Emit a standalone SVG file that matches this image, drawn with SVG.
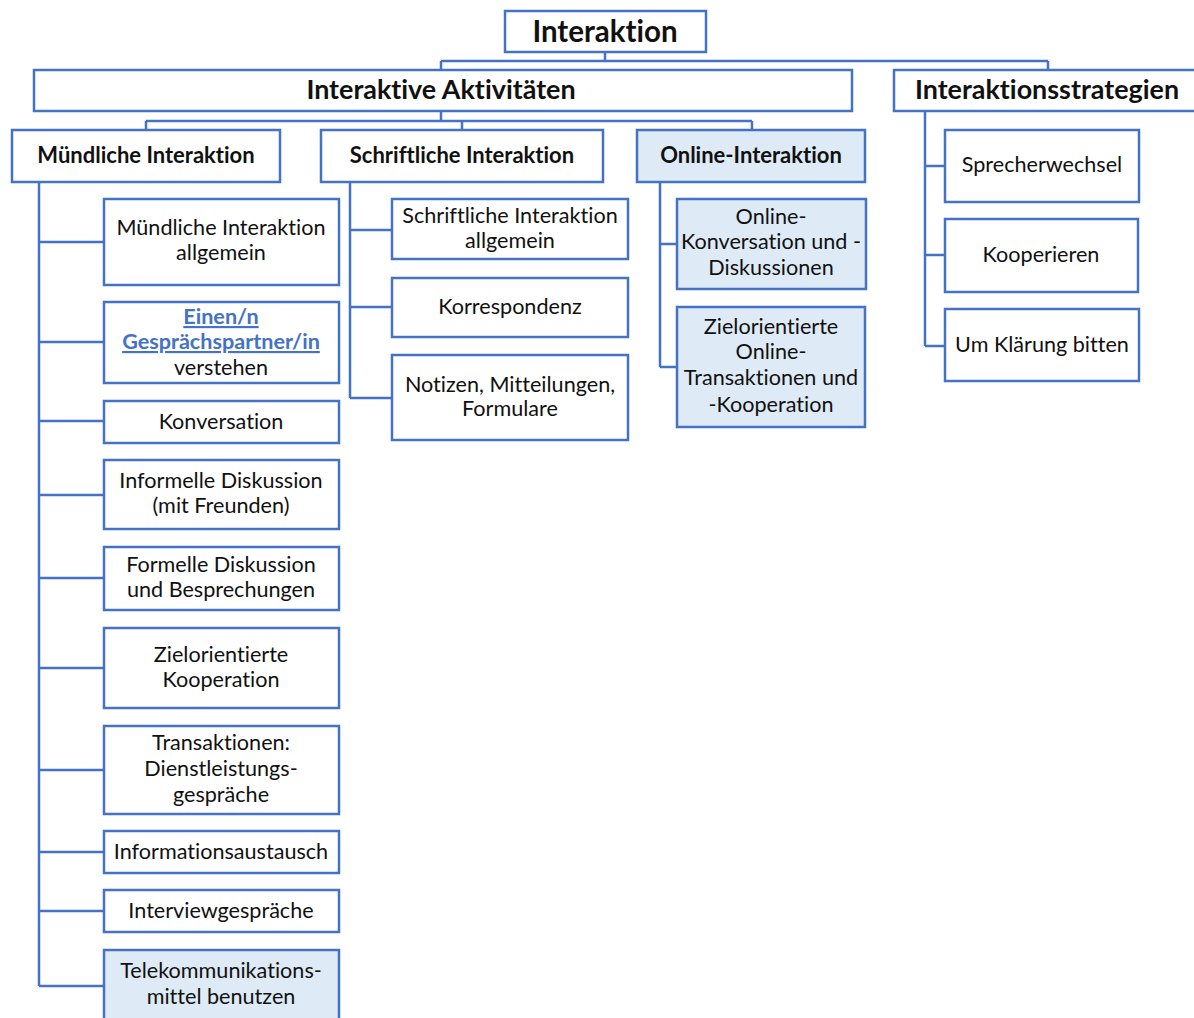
<svg xmlns="http://www.w3.org/2000/svg" width="1194" height="1018" viewBox="0 0 1194 1018">
<style>
.box{fill:#ffffff;stroke:#4472C4;stroke-width:2.5}
.hl{fill:#DEEAF6;stroke:#4472C4;stroke-width:2.5}
.conn{fill:none;stroke:#4472C4;stroke-width:2.5}
text{font-family:Lato,"Open Sans","Liberation Sans",sans-serif;fill:#111111;text-anchor:middle;font-variant-ligatures:none}
.t{font-size:21.6px}
.b1{font-size:29.5px;font-weight:bold}
.b2{font-size:26.9px;font-weight:bold}
.b3{font-size:22px;font-weight:bold}
.lnk{font-weight:bold;fill:#4472C4;text-decoration:underline}
</style>
<rect width="1194" height="1018" fill="#ffffff"/>
<g id="connectors">
<path class="conn" d="M605 52V61M441 61H1048M441 61V70M1048 61V70"/>
<path class="conn" d="M441 111V121M146 121H752M146 121V130M462 121V130M752 121V130"/>
<path class="conn" d="M39 182V986M39 242H104M39 342H104M39 421H104M39 495H104M39 578H104M39 668H104M39 770H104M39 852H104M39 911H104M39 986H104"/>
<path class="conn" d="M350 182V398M350 230H392M350 307H392M350 398H392"/>
<path class="conn" d="M660 182V367M660 244H677M660 367H677"/>
<path class="conn" d="M925 111V346M925 166H945M925 255H945M925 346H945"/>
</g>
<g id="n-root"><rect class="box" x="505" y="11" width="201" height="41"/><text class="b1" x="605" y="42">Interaktion</text></g>
<g id="n-aktiv"><rect class="box" x="34" y="70" width="818" height="41"/><text class="b2" x="441" y="99">Interaktive Aktivitäten</text></g>
<g id="n-strat"><rect class="box" x="894" y="70" width="310" height="41"/><text class="b2" x="1047" y="99">Interaktionsstrategien</text></g>
<g id="n-muend"><rect class="box" x="12" y="130" width="268" height="52"/><text class="b3" x="146" y="163">Mündliche Interaktion</text></g>
<g id="n-schrift"><rect class="box" x="321" y="130" width="282" height="52"/><text class="b3" x="462" y="163">Schriftliche Interaktion</text></g>
<g id="n-online"><rect class="hl" x="637" y="130" width="228" height="52"/><text class="b3" x="751" y="163">Online-Interaktion</text></g>
<g id="n-m1"><rect class="box" x="104" y="199" width="235" height="86"/><text class="t" x="221" y="235">Mündliche Interaktion</text><text class="t" x="221" y="260">allgemein</text></g>
<g id="n-m2"><rect class="box" x="104" y="302" width="235" height="81"/><text class="t lnk" x="221" y="324">Einen/n</text><text class="t lnk" x="221" y="349">Gesprächspartner/in</text><text class="t" x="221" y="375">verstehen</text></g>
<g id="n-m3"><rect class="box" x="104" y="401" width="235" height="42"/><text class="t" x="221" y="429">Konversation</text></g>
<g id="n-m4"><rect class="box" x="104" y="460" width="235" height="69"/><text class="t" x="221" y="488">Informelle Diskussion</text><text class="t" x="221" y="513">(mit Freunden)</text></g>
<g id="n-m5"><rect class="box" x="104" y="547" width="235" height="63"/><text class="t" x="221" y="572">Formelle Diskussion</text><text class="t" x="221" y="597">und Besprechungen</text></g>
<g id="n-m6"><rect class="box" x="104" y="628" width="235" height="80"/><text class="t" x="221" y="662">Zielorientierte</text><text class="t" x="221" y="687">Kooperation</text></g>
<g id="n-m7"><rect class="box" x="104" y="726" width="235" height="88"/><text class="t" x="221" y="750">Transaktionen:</text><text class="t" x="221" y="776">Dienstleistungs-</text><text class="t" x="221" y="802">gespräche</text></g>
<g id="n-m8"><rect class="box" x="104" y="831" width="235" height="42"/><text class="t" x="221" y="859">Informationsaustausch</text></g>
<g id="n-m9"><rect class="box" x="104" y="890" width="235" height="42"/><text class="t" x="221" y="918">Interviewgespräche</text></g>
<g id="n-m10"><rect class="hl" x="104" y="950" width="235" height="75"/><text class="t" x="221" y="978">Telekommunikations-</text><text class="t" x="221" y="1004">mittel benutzen</text></g>
<g id="n-s1"><rect class="box" x="392" y="199" width="236" height="60"/><text class="t" x="510" y="223">Schriftliche Interaktion</text><text class="t" x="510" y="248">allgemein</text></g>
<g id="n-s2"><rect class="box" x="392" y="278" width="236" height="59"/><text class="t" x="510" y="314">Korrespondenz</text></g>
<g id="n-s3"><rect class="box" x="392" y="355" width="236" height="85"/><text class="t" x="510" y="392">Notizen, Mitteilungen,</text><text class="t" x="510" y="416">Formulare</text></g>
<g id="n-o1"><rect class="hl" x="677" y="199" width="189" height="90"/><text class="t" x="771" y="224">Online-</text><text class="t" x="771" y="249">Konversation und -</text><text class="t" x="771" y="275">Diskussionen</text></g>
<g id="n-o2"><rect class="hl" x="677" y="307" width="188" height="120"/><text class="t" x="771" y="334">Zielorientierte</text><text class="t" x="771" y="359">Online-</text><text class="t" x="771" y="385">Transaktionen und</text><text class="t" x="771" y="412">-Kooperation</text></g>
<g id="n-st1"><rect class="box" x="945" y="130" width="194" height="72"/><text class="t" x="1042" y="172">Sprecherwechsel</text></g>
<g id="n-st2"><rect class="box" x="945" y="219" width="193" height="73"/><text class="t" x="1041" y="262">Kooperieren</text></g>
<g id="n-st3"><rect class="box" x="945" y="309" width="194" height="72"/><text class="t" x="1042" y="352">Um Klärung bitten</text></g>
</svg>
